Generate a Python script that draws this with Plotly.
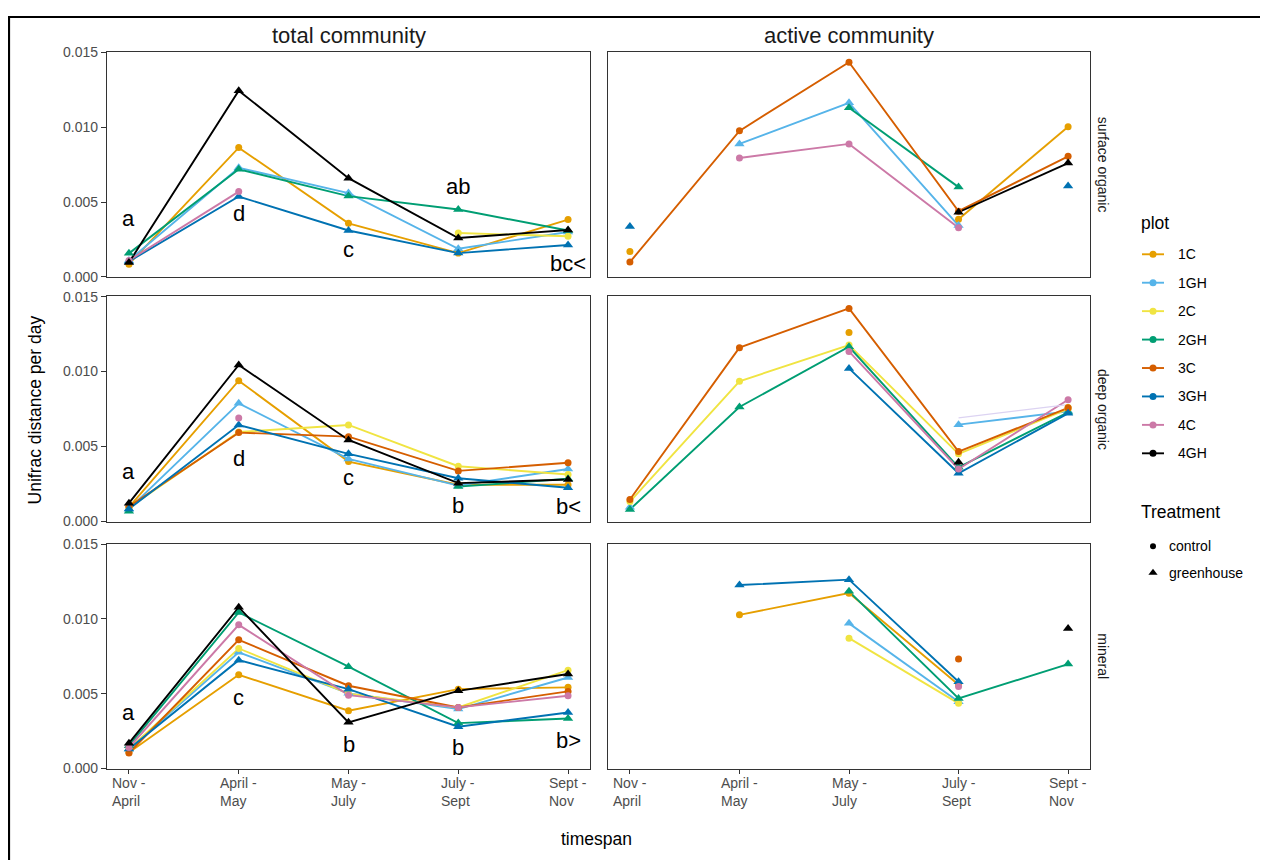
import plotly.graph_objects as go

N = None

# ---------------- data ----------------
timespan = ["Nov - April", "April - May", "May - July", "July - Sept", "Sept - Nov"]
timespan_labels = ["Nov -<br>April", "April -<br>May", "May -<br>July", "July -<br>Sept", "Sept -<br>Nov"]
plots = ["1C", "1GH", "2C", "2GH", "3C", "3GH", "4C", "4GH"]
plot_colors = ["#E69F00", "#56B4E9", "#F0E442", "#009E73", "#D55E00", "#0072B2", "#CC79A7", "#000000"]
plot_treatment = ["control", "greenhouse", "control", "greenhouse",
                  "control", "greenhouse", "control", "greenhouse"]
treatments = ["control", "greenhouse"]
layers = ["surface organic", "deep organic", "mineral"]
communities = ["total community", "active community"]

surface_total = {
    "1C":  [0.00085, 0.00864, 0.00358, 0.00159, 0.00383],
    "1GH": [0.00110, 0.00730, 0.00560, 0.00188, 0.00300],
    "2C":  [N, N, N, 0.00293, 0.00271],
    "2GH": [0.00157, 0.00719, 0.00540, 0.00450, 0.00310],
    "3C":  [N, N, N, N, N],
    "3GH": [0.00103, 0.00537, 0.00310, 0.00159, 0.00213],
    "4C":  [0.00110, 0.00570, N, N, N],
    "4GH": [0.00096, 0.01245, 0.00660, 0.00260, 0.00313],
}
surface_active = {
    "1C":  [0.00170, N, N, 0.00385, 0.01003],
    "1GH": [N, 0.00889, 0.01164, 0.00343, N],
    "2C":  [N, N, N, N, N],
    "2GH": [N, N, 0.01130, 0.00600, N],
    "3C":  [0.00099, 0.00976, 0.01435, 0.00439, 0.00806],
    "3GH": [0.00336, N, N, N, 0.00607],
    "4C":  [N, 0.00795, 0.00889, 0.00329, N],
    "4GH": [N, N, N, 0.00432, 0.00761],
}
deep_total = {
    "1C":  [0.00093, 0.00939, 0.00398, 0.00243, 0.00243],
    "1GH": [0.00082, 0.00788, 0.00416, 0.00238, 0.00349],
    "2C":  [0.00090, 0.00596, 0.00643, 0.00367, 0.00312],
    "2GH": [0.00067, N, N, 0.00231, 0.00283],
    "3C":  [0.00098, 0.00592, 0.00565, 0.00336, 0.00390],
    "3GH": [0.00082, 0.00643, 0.00450, 0.00287, 0.00223],
    "4C":  [N, 0.00690, N, N, N],
    "4GH": [0.00120, 0.01044, 0.00543, 0.00254, 0.00278],
}
deep_active = {
    "1C":  [N, N, 0.01262, N, 0.00760],
    "1GH": [0.00093, N, N, 0.00645, 0.00734],
    "2C":  [0.00131, 0.00935, 0.01177, 0.00450, 0.00750],
    "2GH": [0.00078, 0.00763, 0.01166, 0.00360, 0.00728],
    "3C":  [0.00145, 0.01160, 0.01422, 0.00465, 0.00757],
    "3GH": [N, N, 0.01021, 0.00320, 0.00721],
    "4C":  [N, N, 0.01135, 0.00349, 0.00812],
    "4GH": [N, N, N, 0.00394, N],
}
deep_active_faint = [N, N, N, 0.00690, 0.00779]
mineral_total = {
    "1C":  [0.00107, 0.00626, 0.00386, 0.00530, 0.00542],
    "1GH": [0.00130, 0.00776, 0.00502, 0.00397, 0.00608],
    "2C":  [0.00130, 0.00802, 0.00500, 0.00408, 0.00657],
    "2GH": [0.00152, 0.01043, 0.00680, 0.00303, 0.00334],
    "3C":  [0.00103, 0.00860, 0.00553, 0.00408, 0.00515],
    "3GH": [0.00130, 0.00724, 0.00530, 0.00279, 0.00374],
    "4C":  [0.00140, 0.00960, 0.00490, 0.00408, 0.00486],
    "4GH": [0.00169, 0.01077, 0.00308, 0.00519, 0.00631],
}
mineral_active = {
    "1C":  [N, 0.01027, 0.01172, 0.00560, N],
    "1GH": [N, N, 0.00970, 0.00446, N],
    "2C":  [N, N, 0.00871, 0.00435, N],
    "2GH": [N, N, 0.01184, 0.00468, 0.00698],
    "3C":  [N, N, N, 0.00731, N],
    "3GH": [N, 0.01226, 0.01262, 0.00580, N],
    "4C":  [N, N, N, 0.00548, N],
    "4GH": [N, N, N, N, 0.00936],
}

surface_letters = ["a", "d", "c", "ab", "bc<"]
surface_letter_y = [0.00391, 0.00425, 0.00180, 0.00602, 0.00087]
deep_letters = ["a", "d", "c", "b", "b<"]
deep_letter_y = [0.00329, 0.00418, 0.00289, 0.00107, 0.00096]
mineral_letters = ["a", "c", "b", "b", "b>"]
mineral_letter_y = [0.00375, 0.00475, 0.00158, 0.00138, 0.00187]

y_ticks = [0.0, 0.005, 0.010, 0.015]

# ---------------- layout helpers ----------------
# Screen placement observed for this page: the figure's paper spans screen
# x in [8, 8 + W] and screen y in [16, 860].
OX = 8
W, H = 1252, 860
SCR_TOP, SCR_BOT = 16, 860
FONT = "Liberation Sans, Arial, Helvetica, sans-serif"


def px_x(x):
    return (x - OX) / W


def px_y(y):
    return 1 - (y - SCR_TOP) / (SCR_BOT - SCR_TOP)


col_dom = [[px_x(107), px_x(590)], [px_x(608), px_x(1090)]]
row_dom = [[px_y(277), px_y(52)], [px_y(521), px_y(296)], [px_y(768), px_y(543)]]
row_centers = [164.5, 408.5, 655.5]

panel_data = [[surface_total, surface_active],
              [deep_total, deep_active],
              [mineral_total, mineral_active]]
panel_letters = [(surface_letters, surface_letter_y),
                 (deep_letters, deep_letter_y),
                 (mineral_letters, mineral_letter_y)]

fig = go.Figure()
annotations = []
layout_axes = {}

for r in range(3):
    for c in range(2):
        k = r * 2 + c + 1
        xa = "x" if k == 1 else f"x{k}"
        ya = "y" if k == 1 else f"y{k}"
        data = panel_data[r][c]
        # lines first
        for p, col in zip(plots, plot_colors):
            fig.add_trace(go.Scatter(
                x=timespan, y=data[p], mode="lines",
                line=dict(color=col, width=1.9),
                xaxis=xa, yaxis=ya, showlegend=False, hoverinfo="skip"))
        if r == 1 and c == 1:
            fig.add_trace(go.Scatter(
                x=timespan, y=deep_active_faint, mode="lines",
                line=dict(color="#DCD3F2", width=1.2),
                xaxis=xa, yaxis=ya, showlegend=False, hoverinfo="skip"))
        # points on top
        for p, col, tr in zip(plots, plot_colors, plot_treatment):
            circ = tr == "control"
            fig.add_trace(go.Scatter(
                x=timespan, y=data[p], mode="markers",
                marker=dict(symbol="circle" if circ else "triangle-up",
                            size=7 if circ else 9, color=col,
                            line=dict(width=0)),
                xaxis=xa, yaxis=ya, showlegend=False, name=p))
        xkey = "xaxis" if k == 1 else f"xaxis{k}"
        ykey = "yaxis" if k == 1 else f"yaxis{k}"
        layout_axes[xkey] = dict(
            domain=col_dom[c], anchor=ya, type="category",
            categoryorder="array", categoryarray=timespan,
            range=[-0.2, 4.2], showgrid=False, zeroline=False,
            showline=True, mirror=True, linecolor="#333333", linewidth=1.2,
            ticks="outside" if r == 2 else "", ticklen=4, tickwidth=1.1,
            tickcolor="#333333", showticklabels=False, fixedrange=True)
        layout_axes[ykey] = dict(
            domain=row_dom[r], anchor=xa, range=[-0.00003, 0.01503],
            showgrid=False, zeroline=False, showline=True, mirror=True,
            linecolor="#333333", linewidth=1.2,
            tickvals=y_ticks, tickformat=".3f",
            ticks="outside" if c == 0 else "", ticklen=5, tickwidth=1.1,
            tickcolor="#333333", showticklabels=(c == 0),
            tickfont=dict(family=FONT, size=14, color="#4D4D4D"),
            fixedrange=True)
        # significance letters on total community panels
        if c == 0:
            letters, ly = panel_letters[r]
            for t, lab, yv in zip(timespan, letters, ly):
                annotations.append(dict(
                    x=t, y=yv, xref=xa, yref=ya, showarrow=False,
                    text=lab.replace("<", "&lt;").replace(">", "&gt;"),
                    font=dict(family=FONT, size=22, color="black"),
                    xanchor="center", yanchor="middle"))
        # x tick labels on bottom row
        if r == 2:
            for t, lab in zip(timespan, timespan_labels):
                annotations.append(dict(
                    x=t, y=px_y(791.5), xref=xa, yref="paper", showarrow=False,
                    text=lab, align="left", xanchor="center", yanchor="middle",
                    font=dict(family=FONT, size=14, color="#4D4D4D")))

# column strips
for c, name in enumerate(communities):
    annotations.append(dict(
        x=(col_dom[c][0] + col_dom[c][1]) / 2, y=px_y(35), xref="paper", yref="paper",
        text=name, showarrow=False, xanchor="center", yanchor="middle",
        font=dict(family=FONT, size=22, color="#1A1A1A")))
# row strips
for r, name in enumerate(layers):
    annotations.append(dict(
        x=px_x(1103), y=px_y(row_centers[r]), xref="paper", yref="paper",
        text=name, showarrow=False, textangle=90, xanchor="center", yanchor="middle",
        font=dict(family=FONT, size=14, color="#1A1A1A")))
# axis titles
annotations.append(dict(
    x=px_x(35), y=px_y(410), xref="paper", yref="paper", text="Unifrac distance per day",
    showarrow=False, textangle=-90, xanchor="center", yanchor="middle",
    font=dict(family=FONT, size=17.5, color="black")))
annotations.append(dict(
    x=px_x(596), y=px_y(838), xref="paper", yref="paper", text="timespan",
    showarrow=False, xanchor="center", yanchor="middle",
    font=dict(family=FONT, size=17.5, color="black")))

# ---------------- legend (drawn on a screen-pixel overlay axis) ----------------
layout_axes["xaxis7"] = dict(domain=[0, 1], range=[OX, OX + W], visible=False,
                             fixedrange=True, anchor="y7")
layout_axes["yaxis7"] = dict(domain=[0, 1], range=[SCR_BOT, SCR_TOP], visible=False,
                             fixedrange=True, anchor="x7")
leg_top, leg_step = 254, 28.4
annotations.append(dict(x=px_x(1139), y=px_y(223), xref="paper", yref="paper", text="plot",
                        showarrow=False, xanchor="left", yanchor="middle",
                        font=dict(family=FONT, size=17.5, color="black")))
for i, (p, col) in enumerate(zip(plots, plot_colors)):
    yy = leg_top + i * leg_step
    fig.add_trace(go.Scatter(x=[1142, 1164], y=[yy, yy], mode="lines",
                             line=dict(color=col, width=1.9), xaxis="x7", yaxis="y7",
                             showlegend=False, hoverinfo="skip"))
    fig.add_trace(go.Scatter(x=[1153], y=[yy], mode="markers",
                             marker=dict(color=col, size=7, symbol="circle"),
                             xaxis="x7", yaxis="y7", showlegend=False, hoverinfo="skip"))
    annotations.append(dict(x=px_x(1176), y=px_y(yy), xref="paper", yref="paper", text=p,
                            showarrow=False, xanchor="left", yanchor="middle",
                            font=dict(family=FONT, size=14, color="black")))
annotations.append(dict(x=px_x(1139), y=px_y(511.7), xref="paper", yref="paper",
                        text="Treatment", showarrow=False, xanchor="left", yanchor="middle",
                        font=dict(family=FONT, size=17.5, color="black")))
tr_y = [545.7, 572]
for tr, yy in zip(treatments, tr_y):
    circ = tr == "control"
    fig.add_trace(go.Scatter(x=[1153], y=[yy], mode="markers",
                             marker=dict(color="black", size=6 if circ else 8,
                                         symbol="circle" if circ else "triangle-up"),
                             xaxis="x7", yaxis="y7", showlegend=False, hoverinfo="skip"))
    annotations.append(dict(x=px_x(1167), y=px_y(yy), xref="paper", yref="paper", text=tr,
                            showarrow=False, xanchor="left", yanchor="middle",
                            font=dict(family=FONT, size=14, color="black")))

shapes = [
    dict(type="line", xref="paper", yref="paper", x0=px_x(9), x1=px_x(9), y0=0, y1=1,
         line=dict(color="black", width=2.2)),
    dict(type="line", xref="paper", yref="paper", x0=px_x(9), x1=1, y0=px_y(17),
         y1=px_y(17), line=dict(color="black", width=2.2)),
]

fig.update_layout(
    width=W, height=H, margin=dict(l=0, r=0, t=0, b=0),
    paper_bgcolor="white", plot_bgcolor="rgba(0,0,0,0)",
    showlegend=False, annotations=annotations, shapes=shapes,
    font=dict(family=FONT), **layout_axes)

fig.write_html("out.html")
